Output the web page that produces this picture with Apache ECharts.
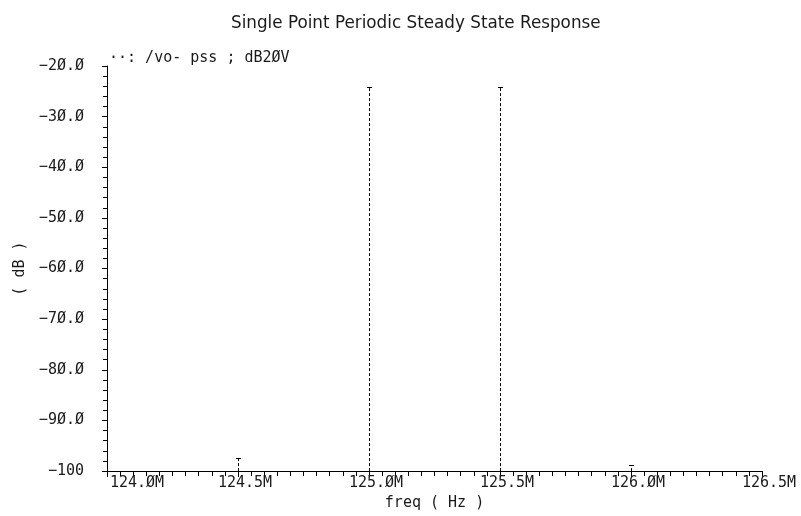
<!DOCTYPE html>
<html>
<head>
<meta charset="utf-8">
<script src="https://cdn.jsdelivr.net/npm/echarts@6/dist/echarts.min.js"></script>
<style>
  html, body { margin: 0; padding: 0; background: #fff; }
  #chart { width: 801px; height: 516px; }
</style>
</head>
<body>
<div id="chart"></div>
<script>
// Spectrum lines of the PSS result (frequency in Hz, magnitude in dB20)
const freqHz = [124.5e6, 125.0e6, 125.5e6, 126.0e6];
const levelDb = [-97.5, -24.1, -24.1, -98.8];

// Axis ranges and ticks
const xMin = 124.0e6, xMax = 126.5e6, xStep = 0.5e6;
const yMin = -100, yMax = -20, yStep = 10;

const chartTitle = 'Single Point Periodic Steady State Response';
const traceName = '··: /vo- pss ; dB2ØV';
const xName = 'freq ( Hz )';
const yName = '( dB )';

const FONT = 'DejaVu Sans Mono';
const TITLE_FONT = 'DejaVu Sans';
const INK = '#1a1a1a';

// plotter style: zeros drawn slashed
const slashZero = s => s.replace(/0/g, 'Ø');

const chart = echarts.init(document.getElementById('chart'), null, { renderer: 'canvas' });

chart.setOption({
  animation: false,
  backgroundColor: '#fff',
  textStyle: { fontFamily: FONT, color: INK },
  title: [
    { text: chartTitle, left: 226, top: 10,
      textStyle: { fontFamily: TITLE_FONT, fontSize: 16.8, fontWeight: 'normal', color: INK } },
    { text: traceName, left: 104, top: 46,
      textStyle: { fontFamily: FONT, fontSize: 15, fontWeight: 'normal', color: INK } }
  ],
  grid: { left: 107, right: 39, top: 66, bottom: 42 },
  xAxis: {
    type: 'value',
    min: xMin, max: xMax, interval: xStep,
    name: xName, nameLocation: 'middle', nameGap: 22,
    nameTextStyle: { fontFamily: FONT, fontSize: 15, color: INK },
    axisLine: { show: true, lineStyle: { color: '#000', width: 1 } },
    axisTick: { show: true, length: 6, lineStyle: { color: '#000' } },
    minorTick: { show: true, splitNumber: 10, length: 5, lineStyle: { color: '#000' } },
    splitLine: { show: false },
    axisLabel: {
      margin: 5,
      fontFamily: FONT, fontSize: 15, color: INK,
      formatter: v => {
        const t = slashZero((v / 1e6).toFixed(1) + 'M');
        return v === xMin ? '{first|' + t + '}' : '{tk|' + t + '}';
      },
      rich: {
        first: { fontFamily: FONT, fontSize: 15, color: INK, padding: [0, 0, 0, 60] },
        tk: { fontFamily: FONT, fontSize: 15, color: INK, padding: [0, 0, 0, 14] }
      }
    }
  },
  yAxis: {
    type: 'value',
    min: yMin, max: yMax, interval: yStep,
    name: yName, nameLocation: 'middle', nameGap: 75, nameRotate: 90,
    nameTextStyle: { fontFamily: FONT, fontSize: 15, color: INK },
    axisLine: { show: true, lineStyle: { color: '#000', width: 1 } },
    axisTick: { show: true, length: 5, lineStyle: { color: '#000' } },
    minorTick: { show: true, splitNumber: 5, length: 4, lineStyle: { color: '#000' } },
    splitLine: { show: false },
    axisLabel: {
      margin: 23,
      fontFamily: FONT, fontSize: 15, color: INK,
      formatter: v => v === yMin ? '−100' : slashZero('−' + Math.abs(v).toFixed(1))
    }
  },
  series: [{
    type: 'custom',
    name: '/vo- pss ; dB20V',
    coordinateSystem: 'cartesian2d',
    data: freqHz.map((f, i) => [f, levelDb[i]]),
    renderItem: (params, api) => {
      const f = api.value(0);
      const top = api.coord([f, api.value(1)]);
      const base = api.coord([f, yMin]);
      const x = Math.round(top[0]) + 0.5;
      return {
        type: 'group',
        children: [
          { type: 'line',
            shape: { x1: x, y1: base[1], x2: x, y2: top[1] },
            style: { stroke: '#000', lineWidth: 1, lineDash: [3, 2] } },
          { type: 'line',
            shape: { x1: x - 2.5, y1: Math.round(top[1]) + 0.5, x2: x + 2.5, y2: Math.round(top[1]) + 0.5 },
            style: { stroke: '#000', lineWidth: 1 } }
        ]
      };
    }
  }]
});
</script>
</body>
</html>
